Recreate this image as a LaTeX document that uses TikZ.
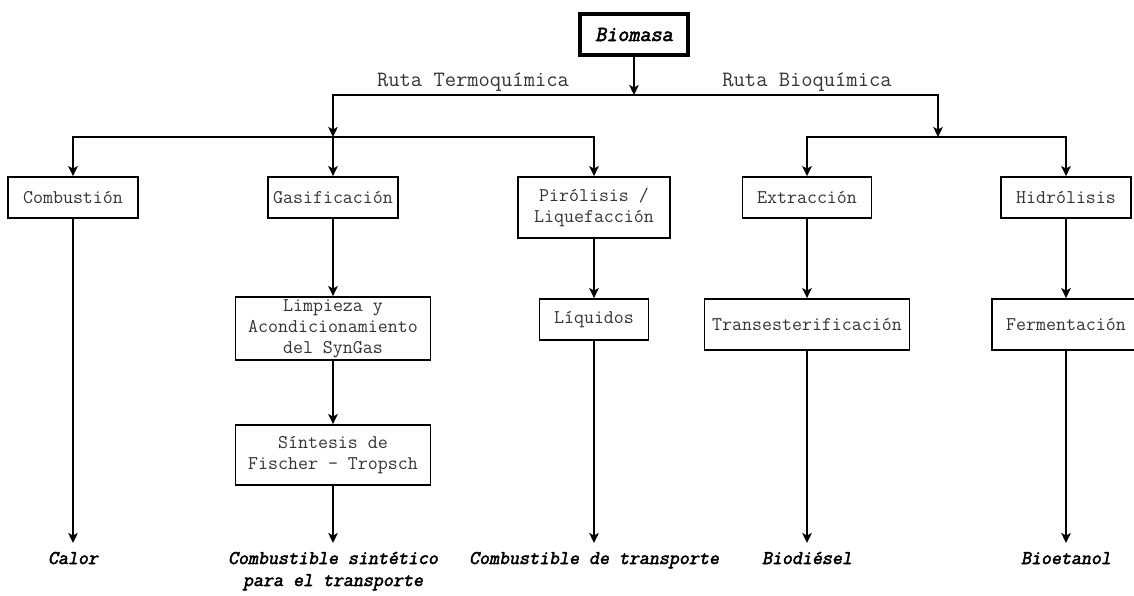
\documentclass[tikz,border=0pt]{standalone}
\usepackage{fontspec}
\newfontfamily\boxfont{Latin Modern Mono}
\newfontfamily\outfont{Latin Modern Mono}[FakeBold=2.5,FakeSlant=0.2]
\usetikzlibrary{arrows.meta}
\newcommand\outstrut{\rule{0pt}{20pt}}
\begin{document}
\begin{tikzpicture}[x=1pt,y=-1pt,
  line width=2pt,
  arr/.style={-{Stealth[length=10pt,width=9.5pt,inset=2.5pt]}},
  box/.style={draw, line width=1.8pt, inner sep=0pt, align=center,
    text=black!80, font=\boxfont\fontsize{19.4}{21}\selectfont},
  rootbox/.style={draw, line width=4pt, inner sep=0pt,
    font=\outfont\fontsize{21.5}{23}\selectfont},
  route/.style={anchor=base, inner sep=0pt, text=black!80,
    font=\boxfont\fontsize{21.9}{23}\selectfont},
  outnode/.style={anchor=north, inner sep=0pt, align=center,
    font=\outfont\fontsize{19.4}{22}\selectfont}]
\useasboundingbox (0,0) rectangle (1134,595);
\clip (0,0) rectangle (1134,595);

% root
\node[rootbox, minimum width=108pt, minimum height=41pt] (bio) at (634,34.5) {Biomasa};

% route labels
\node[route] (rt) at (473,86) {Ruta Termoquímica};
\node[route] (rb) at (807,86) {Ruta Bioquímica};

% junctions
\coordinate (tj) at (634,95);
\coordinate (bL) at (333,137);
\coordinate (bR) at (938,137);

% first-level processes
\node[box, minimum width=130pt, minimum height=41pt] (comb) at (73,197.5) {Combustión};
\node[box, minimum width=130pt, minimum height=41pt] (gas)  at (333,197.5) {Gasificación};
\node[box, minimum width=152pt, minimum height=61pt] (piro) at (594,207.5) {Pirólisis /\\Liquefacción};
\node[box, minimum width=129pt, minimum height=41pt] (ext)  at (807,197.5) {Extracción};
\node[box, minimum width=130pt, minimum height=41pt] (hid)  at (1066,197.5) {Hidrólisis};

% second-level processes
\node[box, minimum width=195pt, minimum height=63pt] (limp) at (333,328.5) {Limpieza y\\Acondicionamiento\\del SynGas};
\node[box, minimum width=195pt, minimum height=60pt] (sint) at (333,455) {Síntesis de\\Fischer — Tropsch};
\node[box, minimum width=109pt, minimum height=41pt] (liq)  at (594,319.5) {Líquidos};
\node[box, minimum width=205pt, minimum height=51pt] (tran) at (807,324.5) {Transesterificación};
\node[box, minimum width=148pt, minimum height=51pt] (ferm) at (1066,324.5) {Fermentación};

% products
\node[outnode] (calor) at (73,543) {\outstrut Calor};
\node[outnode] (csin)  at (333,543) {\outstrut Combustible sintético\\para el transporte};
\node[outnode] (ctra)  at (594,543) {\outstrut Combustible de transporte};
\node[outnode] (bdie)  at (807,543) {\outstrut Biodiésel};
\node[outnode] (beta)  at (1066,543) {\outstrut Bioetanol};

% tree connectors
\draw[arr] (bio) -- (tj);
\draw[arr] (tj) -| (bL);
\draw[arr] (tj) -| (bR);
\draw[arr] (bL) -| (comb.north);
\draw[arr] (bL) -- (gas.north);
\draw[arr] (bL) -| (piro.north);
\draw[arr] (bR) -| (ext.north);
\draw[arr] (bR) -| (hid.north);

% process chains
\draw[arr] (comb) -- (calor);
\draw[arr] (gas) -- (limp);
\draw[arr] (limp) -- (sint);
\draw[arr] (sint) -- (csin);
\draw[arr] (piro) -- (liq);
\draw[arr] (liq) -- (ctra);
\draw[arr] (ext) -- (tran);
\draw[arr] (tran) -- (bdie);
\draw[arr] (hid) -- (ferm);
\draw[arr] (ferm) -- (beta);
\end{tikzpicture}
\end{document}
